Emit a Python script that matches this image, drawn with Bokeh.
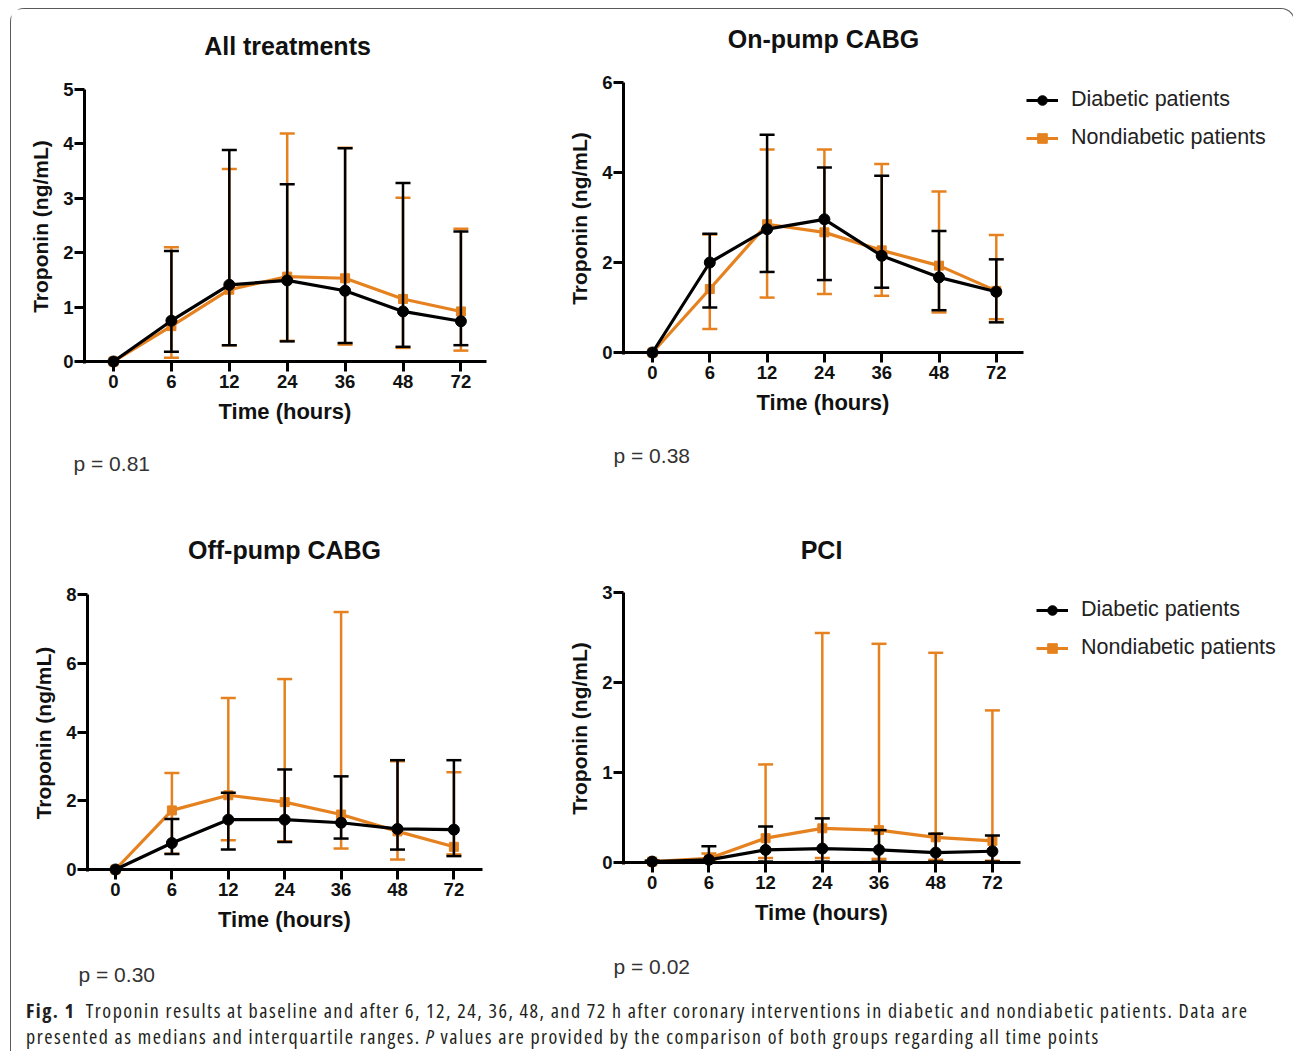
from bokeh.plotting import figure
from bokeh.layouts import column, row
from bokeh.models import (ColumnDataSource, Range1d, FixedTicker,
                          Label, Legend, LegendItem, Div)
from bokeh.embed import file_html
from bokeh.resources import INLINE

# ---------------- data ----------------
times = ["0", "6", "12", "24", "36", "48", "72"]

# All treatments
all_dia_med = [0.0, 0.75, 1.41, 1.49, 1.30, 0.92, 0.74]
all_dia_lo = [0.0, 0.18, 0.30, 0.37, 0.34, 0.27, 0.30]
all_dia_hi = [0.0, 2.03, 3.89, 3.26, 3.92, 3.28, 2.39]
all_non_med = [0.0, 0.65, 1.32, 1.56, 1.53, 1.15, 0.92]
all_non_lo = [0.0, 0.07, 0.30, 0.38, 0.31, 0.25, 0.20]
all_non_hi = [0.0, 2.10, 3.54, 4.19, 3.93, 3.01, 2.44]
all_ticks = [0, 1, 2, 3, 4, 5]

# On-pump CABG
on_dia_med = [0.0, 2.00, 2.74, 2.96, 2.15, 1.67, 1.35]
on_dia_lo = [0.0, 1.00, 1.79, 1.61, 1.44, 0.94, 0.67]
on_dia_hi = [0.0, 2.64, 4.84, 4.11, 3.93, 2.70, 2.07]
on_non_med = [0.0, 1.41, 2.85, 2.67, 2.27, 1.93, 1.37]
on_non_lo = [0.0, 0.52, 1.22, 1.30, 1.26, 0.89, 0.74]
on_non_hi = [0.0, 2.62, 4.51, 4.51, 4.19, 3.58, 2.61]
on_ticks = [0, 2, 4, 6]

# Off-pump CABG
off_dia_med = [0.0, 0.77, 1.45, 1.45, 1.36, 1.18, 1.16]
off_dia_lo = [0.0, 0.45, 0.58, 0.80, 0.90, 0.58, 0.39]
off_dia_hi = [0.0, 1.47, 2.23, 2.91, 2.71, 3.18, 3.18]
off_non_med = [0.0, 1.72, 2.16, 1.96, 1.60, 1.11, 0.66]
off_non_lo = [0.0, 0.46, 0.85, 0.82, 0.61, 0.29, 0.44]
off_non_hi = [0.0, 2.81, 4.99, 5.54, 7.49, 3.15, 2.83]
off_ticks = [0, 2, 4, 6, 8]

# PCI
pci_dia_med = [0.01, 0.03, 0.14, 0.155, 0.14, 0.11, 0.125]
pci_dia_lo = [0.0, 0.0, 0.01, 0.01, 0.01, 0.01, 0.01]
pci_dia_hi = [0.02, 0.18, 0.40, 0.49, 0.36, 0.32, 0.30]
pci_non_med = [0.01, 0.045, 0.27, 0.38, 0.36, 0.28, 0.24]
pci_non_lo = [0.0, 0.01, 0.05, 0.05, 0.04, 0.03, 0.02]
pci_non_hi = [0.02, 0.10, 1.09, 2.55, 2.43, 2.33, 1.69]
pci_ticks = [0, 1, 2, 3]

series_names = ["Diabetic patients", "Nondiabetic patients"]
titles = ["All treatments", "On-pump CABG", "Off-pump CABG", "PCI"]
pvalues = ["p = 0.81", "p = 0.38", "p = 0.30", "p = 0.02"]

# ---------------- style / layout ----------------
BLACK = "#000000"
ORANGE = "#E5821F"
FONT = "Liberation Sans"
ORG_X, ORG_Y = 11, 9  # page position of the content origin
W1, W2 = 540, 733
H1, H2 = 498, 482

xi = list(range(len(times)))
x_labels = {i: t for i, t in zip(xi, times)}


def make_panel(title, pval, ticks, dia, non, fig_w, fig_h, org,
               x0, spacing, axis_left, axis_right, y0, ytop,
               title_xy, p_xy, legend_xy=None):
    ymax = ticks[-1]
    ppu = (y0 - ytop) / ymax

    def dx(px):
        return (px - x0) / spacing

    def dy(py):
        return (y0 - py) / ppu

    p = figure(width=fig_w, height=fig_h,
               x_range=Range1d(dx(org[0]), dx(org[0] + fig_w)),
               y_range=Range1d(dy(org[1] + fig_h), dy(org[1])),
               output_backend="svg", toolbar_location=None,
               min_border=0, min_border_left=0, min_border_right=0,
               min_border_top=0, min_border_bottom=0)
    p.title.visible = False
    p.outline_line_color = None
    p.xgrid.visible = False
    p.ygrid.visible = False
    p.background_fill_color = "white"
    p.border_fill_color = "white"

    rends = []
    for (med, lo, hi), color, marker, msize in (
            (non, ORANGE, "square", 9), (dia, BLACK, "circle", 11)):
        src = ColumnDataSource(dict(x=xi, med=med, lo=lo, hi=hi))
        p.segment(x0="x", y0="lo", x1="x", y1="hi", source=src,
                  line_color=color, line_width=2.5)
        p.scatter(x="x", y="lo", marker="dash", size=15, source=src,
                  line_color=color, line_width=2.5)
        p.scatter(x="x", y="hi", marker="dash", size=15, source=src,
                  line_color=color, line_width=2.5)
        ln = p.line(x="x", y="med", source=src, line_color=color,
                    line_width=3.2)
        mk = p.scatter(x="x", y="med", marker=marker, size=msize, source=src,
                       fill_color=color, line_color=color)
        rends.append((ln, mk))

    p.xaxis.fixed_location = 0
    p.xaxis.bounds = (dx(axis_left - 1.5), dx(axis_right))
    p.xaxis.ticker = FixedTicker(ticks=xi)
    p.xaxis.major_label_overrides = x_labels
    p.yaxis.fixed_location = dx(axis_left)
    p.yaxis.bounds = (-1.5 / ppu, ymax)
    p.yaxis.ticker = FixedTicker(ticks=ticks)
    for ax in p.axis:
        ax.axis_line_width = 3
        ax.axis_line_color = BLACK
        ax.major_tick_line_width = 3
        ax.major_tick_line_color = BLACK
        ax.major_tick_out = 10
        ax.major_tick_in = 0
        ax.minor_tick_line_color = None
        ax.major_label_text_font = FONT
        ax.major_label_text_font_style = "bold"
        ax.major_label_text_font_size = "18.5px"
        ax.major_label_text_color = "#111111"
        ax.axis_label_text_font = FONT
        ax.axis_label_text_font_style = "bold"
        ax.axis_label_text_color = "#111111"
    p.xaxis.axis_label = "Time (hours)"
    p.xaxis.axis_label_text_font_size = "22px"
    p.xaxis.major_label_standoff = 3
    p.xaxis.axis_label_standoff = 8
    p.yaxis.axis_label = "Troponin (ng/mL)"
    p.yaxis.axis_label_text_font_size = "21px"
    p.yaxis.major_label_standoff = 1
    p.yaxis.axis_label_standoff = 8

    p.add_layout(Label(x=dx(title_xy[0]), y=dy(title_xy[1]), text=title,
                       text_align="center", text_baseline="middle",
                       text_font=FONT, text_font_style="bold",
                       text_font_size="25px", text_color="#111111"))
    p.add_layout(Label(x=dx(p_xy[0]), y=dy(p_xy[1]), text=pval,
                       text_align="left", text_baseline="middle",
                       text_font=FONT, text_font_size="21px",
                       text_color="#333333"))

    if legend_xy is not None:
        # legend_xy: page position of first glyph's left end and first item centre
        gx, gy = legend_xy
        pad, item_h, gap = 4, 24, 13
        leg_h = 2 * item_h + gap + 2 * pad
        top = gy - item_h / 2 - pad
        loc = (round(gx - pad - org[0]), round(org[1] + fig_h - (top + leg_h)))
        items = [LegendItem(label=series_names[0], renderers=list(rends[1])),
                 LegendItem(label=series_names[1], renderers=list(rends[0]))]
        leg = Legend(items=items, location=loc,
                     border_line_color=None, background_fill_alpha=0,
                     glyph_width=32, glyph_height=item_h, label_height=item_h,
                     label_standoff=13, label_text_font=FONT,
                     label_text_font_size="21.5px", label_text_color="#222222",
                     spacing=gap, padding=pad, margin=0)
        p.add_layout(leg)
    return p


p1 = make_panel(titles[0], pvalues[0], all_ticks,
                (all_dia_med, all_dia_lo, all_dia_hi),
                (all_non_med, all_non_lo, all_non_hi),
                W1, H1, (ORG_X, ORG_Y), 113.0, 57.9, 84.0, 486.0, 361.0, 89.0,
                (287, 45), (73, 463))
p2 = make_panel(titles[1], pvalues[1], on_ticks,
                (on_dia_med, on_dia_lo, on_dia_hi),
                (on_non_med, on_non_lo, on_non_hi),
                W2, H1, (ORG_X + W1, ORG_Y), 652.0, 57.3, 623.0, 1023.0,
                352.0, 82.0, (823, 38), (613, 455), legend_xy=(1030, 97))
p3 = make_panel(titles[2], pvalues[2], off_ticks,
                (off_dia_med, off_dia_lo, off_dia_hi),
                (off_non_med, off_non_lo, off_non_hi),
                W1, H2, (ORG_X, ORG_Y + H1), 115.0, 56.4, 87.0, 482.0,
                869.0, 594.0, (284, 549), (78, 974))
p4 = make_panel(titles[3], pvalues[3], pci_ticks,
                (pci_dia_med, pci_dia_lo, pci_dia_hi),
                (pci_non_med, pci_non_lo, pci_non_hi),
                W2, H2, (ORG_X + W1, ORG_Y + H1), 651.7, 56.7, 623.0, 1020.0,
                862.0, 592.0, (821, 549), (613, 966), legend_xy=(1040, 607))

caption_html = (
    '<div style="font-family: \'Liberation Sans Narrow\', \'Open Sans\', sans-serif; '
    'font-stretch: 85%; font-size: 20px; letter-spacing: 1.5px; line-height: 26px; '
    'color: #231f20; padding-left: 10px; padding-top: 4px; white-space: nowrap;">'
    '<b>Fig. 1</b>&nbsp; Troponin results at baseline and after 6, 12, 24, 36, 48, '
    'and 72 h after coronary interventions in diabetic and nondiabetic patients. '
    'Data are<br>presented as medians and interquartile ranges. <i>P</i> values '
    'are provided by the comparison of both groups regarding all time points</div>')
cap = Div(text=caption_html, width=W1 + W2, height=52)

layout = column(row(p1, p2), row(p3, p4), cap,
                styles={"border": "1px solid #5a5a5a", "border-bottom": "none",
                        "border-radius": "14px 14px 0 0",
                        "margin-left": "10px", "margin-top": "8px"})

open("out.html", "w").write(file_html(layout, INLINE))
